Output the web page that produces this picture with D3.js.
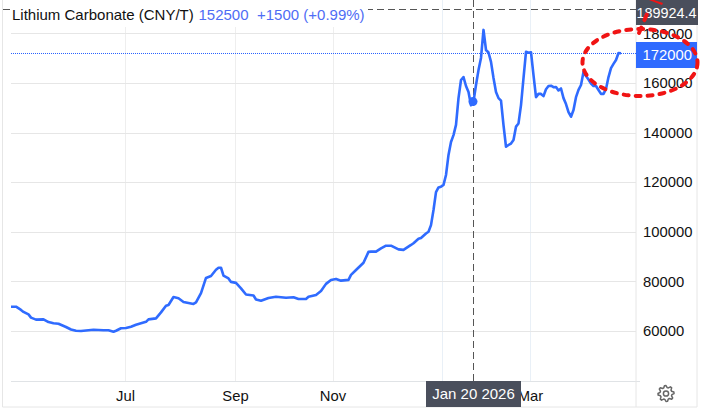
<!DOCTYPE html>
<html>
<head>
<meta charset="utf-8">
<script src="https://cdn.jsdelivr.net/npm/d3@7"></script>
<style>
  html, body { margin: 0; padding: 0; background: #fff; }
  svg { display: block; font-family: "Liberation Sans", Arial, sans-serif; }
</style>
</head>
<body>
<div id="chart"></div>
<script>
// trading sessions counted from the first point on the chart
var sessions = [0,2,4,5,7,8,10,13,15,17,19,22,24,26,28,33,37,39,41,42,44,46,48,50,54,55,58,60,62,63,65,67,69,71,73,74,76,78,79,80,82,83,84,85,87,88,90,92,94,97,98,100,103,106,110,113,115,118,119,122,124,126,128,130,132,135,136,138,141,143,144,146,148,150,152,155,157,160,161,163,164,166,167,168,169,170,171,172,173,174,175,176,177,178,179,180,181,182,183,184,185,186,187,188,189,190,191,192,193,194,195,196,197,198,199,200,201,202,203,204,205,206,207,208,209,210,211,212,213,214,215,216,217,218,219,220,221,222,223,224,225,226,227,228,229,230,231,232,233,234,235,236,237,238,239,240,241,242,243,244];
var prices = [69800,69800,68500,67700,66700,65400,64600,64700,63600,63100,62900,61600,60600,60100,60000,60500,60300,60300,59700,60100,61100,61200,61700,62500,63700,64700,65100,67500,70200,70500,73700,73200,71700,71300,70900,71500,75300,81400,81800,82200,84700,85500,85500,82300,81200,79800,79400,77200,74700,74300,72700,72200,73300,73800,73400,73600,72900,72900,73800,74500,76100,79000,80600,81000,80300,80600,82600,84600,87500,91900,92000,92000,93300,94400,94400,92900,92700,94700,95400,97200,97500,99300,100000,102700,108800,116000,117900,118200,118900,122900,131000,136200,139000,143100,153900,161200,162400,158800,156400,151000,152500,159200,165200,170100,181400,173300,172300,168500,162000,156400,153900,152900,143000,134300,135000,135600,137000,142400,143700,151100,162000,172600,172200,172400,163200,154300,155600,155600,154700,157500,158800,158900,158300,158400,157000,157800,153900,151500,148300,146400,149100,154300,157200,159200,164400,162800,161400,159800,158800,158800,157200,155600,155600,157600,162400,166000,167700,169300,172100,172000];

var priceTicks = [60000,80000,100000,120000,140000,160000,180000];
var monthSessions = [46,90,129,173,208];
var monthLabels = ["Jul","Sep","Nov","","Mar"];

var title = "Lithium Carbonate (CNY/T)";
var quote = "152500";
var change = "+1500 (+0.99%)";
var lastPrice = 172000;
var cursorSession = 185;
var cursorPrice = 189924.4;
var cursorDate = "Jan 20 2026";

var width = 701, height = 408;
var plot = { left: 11, right: 636, top: 0, bottom: 381 };
var labelFont = "14.8px";
var red = "#f01414";

var svg = d3.select("#chart").append("svg")
    .attr("width", width)
    .attr("height", height);

// session 0 sits on the plot's left edge, 2.5px per session
var x = d3.scaleLinear().domain([0, 250]).range([11, 636]);
var y = d3.scaleLinear().domain([60000, 180000]).range([331, 33.4]);

// outer frame
svg.append("path")
    .attr("d", "M2.5,0V407H697V0")
    .attr("fill", "none")
    .attr("stroke", "#e6e6e6")
    .attr("stroke-width", 1);

// vertical grid, the newer months are a bit bluer
svg.selectAll(".vgrid").data(monthSessions).enter().append("line")
    .attr("x1", function (d) { return Math.round(x(d)) - 0.5; })
    .attr("x2", function (d) { return Math.round(x(d)) - 0.5; })
    .attr("y1", plot.top)
    .attr("y2", plot.bottom)
    .attr("stroke", function (d, i) { return i > 2 ? "#e9f0f7" : "#eeeeee"; });

// horizontal grid
svg.selectAll(".hgrid").data(priceTicks).enter().append("line")
    .attr("x1", plot.left)
    .attr("x2", plot.right)
    .attr("y1", function (d) { return Math.round(y(d)) + 0.5; })
    .attr("y2", function (d) { return Math.round(y(d)) + 0.5; })
    .attr("stroke", "#e6e6e6");

// axis lines
svg.append("line")
    .attr("x1", plot.left).attr("x2", 640)
    .attr("y1", plot.bottom + 0.5).attr("y2", plot.bottom + 0.5)
    .attr("stroke", "#e0e3e6");
svg.append("line")
    .attr("x1", plot.right).attr("x2", plot.right)
    .attr("y1", 0).attr("y2", 407)
    .attr("stroke", "#e6e6e6");

var yAxis = d3.axisRight(y)
    .tickValues(priceTicks)
    .tickFormat(d3.format("d"))
    .tickSize(0)
    .tickPadding(7);
var yAxisG = svg.append("g")
    .attr("transform", "translate(" + plot.right + ",0)")
    .call(yAxis);
yAxisG.select(".domain").remove();
yAxisG.selectAll("text")
    .attr("fill", "#111")
    .style("font-size", labelFont)
    .style("font-family", '"Liberation Sans", Arial, sans-serif');

var xAxis = d3.axisBottom(x)
    .tickValues(monthSessions)
    .tickFormat(function (d, i) { return monthLabels[i]; })
    .tickSize(0)
    .tickPadding(9);
var xAxisG = svg.append("g")
    .attr("transform", "translate(-1," + plot.bottom + ")")
    .call(xAxis);
xAxisG.select(".domain").remove();
xAxisG.selectAll("text")
    .attr("fill", "#111")
    .style("font-size", labelFont)
    .style("font-family", '"Liberation Sans", Arial, sans-serif');

// last price dotted line
svg.append("line")
    .attr("x1", plot.left).attr("x2", plot.right)
    .attr("y1", Math.round(y(lastPrice)) + 0.5)
    .attr("y2", Math.round(y(lastPrice)) + 0.5)
    .attr("stroke", "#2962ff")
    .attr("stroke-dasharray", "1 1");

// crosshair
svg.append("line")
    .attr("x1", 3).attr("x2", plot.right)
    .attr("y1", Math.round(y(cursorPrice)) + 0.5)
    .attr("y2", Math.round(y(cursorPrice)) + 0.5)
    .attr("stroke", "#555")
    .attr("stroke-dasharray", "7 4");
svg.append("line")
    .attr("x1", Math.round(x(cursorSession)) - 0.5)
    .attr("x2", Math.round(x(cursorSession)) - 0.5)
    .attr("y1", 0).attr("y2", plot.bottom)
    .attr("stroke", "#555")
    .attr("stroke-dasharray", "7 4");

// price line
var points = sessions.map(function (s, i) { return { s: s, p: prices[i] }; });
var line = d3.line()
    .x(function (d) { return x(d.s); })
    .y(function (d) { return y(d.p); });

svg.append("path")
    .datum(points)
    .attr("d", line)
    .attr("fill", "none")
    .attr("stroke", "#2f6bff")
    .attr("stroke-width", 2.6)
    .attr("stroke-linejoin", "round");

// hover dot
svg.append("circle")
    .attr("cx", x(cursorSession) - 0.5)
    .attr("cy", y(prices[sessions.indexOf(cursorSession)]))
    .attr("r", 4.5)
    .attr("fill", "#2f6bff");

// title sits on a white box over the grid
svg.append("rect")
    .attr("x", 12).attr("y", 0)
    .attr("width", 356).attr("height", 27)
    .attr("fill", "#fff");
svg.append("text")
    .attr("x", 12).attr("y", 20)
    .attr("fill", "#111")
    .style("font-size", "15px")
    .text(title);
svg.append("text")
    .attr("x", 198.5).attr("y", 20)
    .attr("fill", "#4f6df5")
    .style("font-size", "15px")
    .text(quote);
svg.append("text")
    .attr("x", 257).attr("y", 20)
    .attr("fill", "#4f6df5")
    .style("font-size", "15px")
    .text(change);

// last price label
svg.append("rect")
    .attr("x", 636).attr("y", 42)
    .attr("width", 61).attr("height", 26)
    .attr("fill", "#2f6bff");
svg.append("text")
    .attr("x", 642.5).attr("y", 60)
    .attr("fill", "#fff")
    .style("font-size", labelFont)
    .text(d3.format("d")(lastPrice));

// crosshair price label
svg.append("rect")
    .attr("x", 636).attr("y", 0)
    .attr("width", 62).attr("height", 25)
    .attr("fill", "#4a4f5c");
svg.append("text")
    .attr("x", 636.5).attr("y", 18)
    .attr("fill", "#fff")
    .style("font-size", "14.4px")
    .text(cursorPrice);

// crosshair date label
svg.append("rect")
    .attr("x", 426).attr("y", 381)
    .attr("width", 95).attr("height", 26)
    .attr("fill", "#4a4f5c");
svg.append("text")
    .attr("x", 473.5).attr("y", 399)
    .attr("text-anchor", "middle")
    .attr("fill", "#fff")
    .style("font-size", "15px")
    .text(cursorDate);

// settings gear
var teeth = 8, gear = [];
for (var t = 0; t < teeth * 4; t++) {
    var a = t / (teeth * 4) * 2 * Math.PI - Math.PI / 16;
    var r = (t % 4 < 2) ? 8 : 6;
    gear.push([r * Math.cos(a), r * Math.sin(a)]);
}
var gearG = svg.append("g").attr("transform", "translate(666,393.5)");
gearG.append("path")
    .attr("d", d3.line().curve(d3.curveLinearClosed)(gear))
    .attr("fill", "none")
    .attr("stroke", "#666")
    .attr("stroke-width", 1.5)
    .attr("stroke-linejoin", "round");
gearG.append("circle")
    .attr("r", 2.6)
    .attr("fill", "none")
    .attr("stroke", "#666")
    .attr("stroke-width", 1.5);

// red hand drawn annotation
svg.append("ellipse")
    .attr("cx", 640).attr("cy", 62.5)
    .attr("rx", 57.5).attr("ry", 33.5)
    .attr("fill", "none")
    .attr("stroke", red)
    .attr("stroke-width", 4)
    .attr("stroke-linecap", "round")
    .attr("stroke-dasharray", "5 7");
svg.append("path")
    .attr("d", "M639,33L647,14")
    .attr("fill", "none")
    .attr("stroke", red)
    .attr("stroke-width", 4)
    .attr("stroke-linecap", "round")
    .attr("stroke-dasharray", "6 8");
svg.append("path")
    .attr("d", "M649,0L654,0L663,3L662,5Z")
    .attr("fill", red);
</script>
</body>
</html>
